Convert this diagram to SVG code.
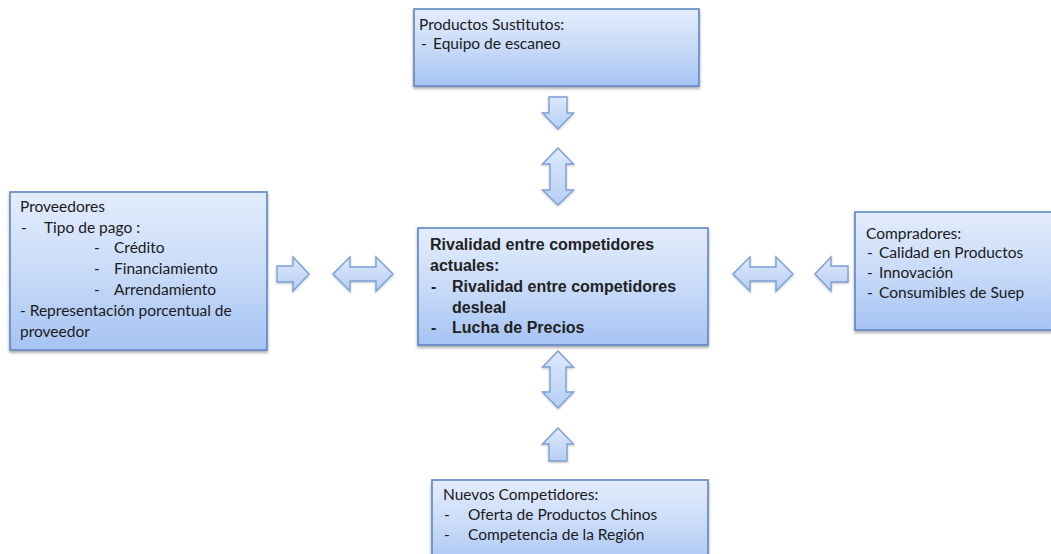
<svg xmlns="http://www.w3.org/2000/svg" width="1051" height="554" viewBox="0 0 1051 554">
  <defs>
    <linearGradient id="boxFill" x1="0" y1="0" x2="0" y2="1">
      <stop offset="0" stop-color="#e3ecfc"/>
      <stop offset="0.5" stop-color="#c9dbf8"/>
      <stop offset="1" stop-color="#a5c3f3"/>
    </linearGradient>
    <linearGradient id="arrowFill" x1="0" y1="0" x2="0" y2="1">
      <stop offset="0" stop-color="#dde8fb"/>
      <stop offset="1" stop-color="#b7cff4"/>
    </linearGradient>
    <filter id="shadow" x="-10%" y="-10%" width="120%" height="130%">
      <feDropShadow dx="0" dy="2" stdDeviation="1.6" flood-color="#000" flood-opacity="0.35"/>
    </filter>
    <filter id="arrowShadow" x="-20%" y="-20%" width="140%" height="140%">
      <feDropShadow dx="0" dy="1" stdDeviation="1" flood-color="#000" flood-opacity="0.25"/>
    </filter>
  </defs>
  <style>
    .box { fill: url(#boxFill); stroke: #5f86c2; stroke-width: 1.6; filter: url(#shadow); }
    .arrow { fill: url(#arrowFill); stroke: #7c9fd3; stroke-width: 1.4; stroke-linejoin: miter; filter: url(#arrowShadow); }
    .t { font-family: Lato, "Open Sans", "Noto Sans", sans-serif; font-size: 15.5px; fill: #1a1a1a; }
    .c { font-family: "Liberation Sans", Arial, sans-serif; font-size: 16px; font-weight: bold; fill: #222222; }
  </style>

  <rect width="1051" height="554" fill="#ffffff"/>

  <!-- block arrows between the five forces -->
  <g id="connectors">
    <!-- from substitutes (down) -->
    <polygon class="arrow" points="549,97 567,97 567,113 573.5,113 558,129 542.5,113 549,113"/>
    <!-- substitutes <-> rivalry -->
    <polygon class="arrow" points="558,148 573.5,164 566,164 566,190 573.5,190 558,205 542.5,190 550,190 550,164 542.5,164"/>
    <!-- rivalry <-> new entrants -->
    <polygon class="arrow" points="558,351 573.5,367 566,367 566,392 573.5,392 558,408 542.5,392 550,392 550,367 542.5,367"/>
    <!-- from new entrants (up) -->
    <polygon class="arrow" points="558,428 573.5,444 567,444 567,461 549,461 549,444 542.5,444"/>
    <!-- from suppliers (right) -->
    <polygon class="arrow" points="277,266 293,266 293,257 309,274 293,291 293,282 277,282"/>
    <!-- suppliers <-> rivalry -->
    <polygon class="arrow" points="333,274 350,257 350,267 376,267 376,257 393,274 376,291 376,281 350,281 350,291"/>
    <!-- rivalry <-> buyers -->
    <polygon class="arrow" points="733,274 750,257 750,267 776,267 776,257 793,274 776,291 776,281 750,281 750,291"/>
    <!-- from buyers (left) -->
    <polygon class="arrow" points="815,274 831,257 831,266 848,266 848,282 831,282 831,291"/>
  </g>

  <!-- substitute products -->
  <g id="sustitutos">
    <rect class="box" x="414" y="9" width="285" height="77"/>
    <text class="t" x="419" y="30">Productos Sustitutos:</text>
    <text class="t" x="421" y="49">-</text>
    <text class="t" x="433" y="49">Equipo de escaneo</text>
  </g>

  <!-- suppliers -->
  <g id="proveedores">
    <rect class="box" x="10" y="192" width="257" height="158"/>
    <text class="t" x="20" y="212">Proveedores</text>
    <text class="t" x="21" y="233">-</text>
    <text class="t" x="44" y="233">Tipo de pago :</text>
    <text class="t" x="94" y="253">-</text>
    <text class="t" x="114" y="253">Crédito</text>
    <text class="t" x="94" y="274">-</text>
    <text class="t" x="114" y="274">Financiamiento</text>
    <text class="t" x="94" y="295">-</text>
    <text class="t" x="114" y="295">Arrendamiento</text>
    <text class="t" x="20" y="316">- Representación porcentual de</text>
    <text class="t" x="20" y="337">proveedor</text>
  </g>

  <!-- rivalry among existing competitors -->
  <g id="rivalidad">
    <rect class="box" x="418" y="228" width="290" height="117"/>
    <text class="c" x="430" y="250">Rivalidad entre competidores</text>
    <text class="c" x="430" y="271">actuales:</text>
    <text class="c" x="431" y="292">-</text>
    <text class="c" x="452" y="292">Rivalidad entre competidores</text>
    <text class="c" x="452" y="313">desleal</text>
    <text class="c" x="431" y="333">-</text>
    <text class="c" x="452" y="333">Lucha de Precios</text>
  </g>

  <!-- buyers -->
  <g id="compradores">
    <rect class="box" x="855" y="212" width="205" height="118"/>
    <text class="t" x="866" y="239">Compradores:</text>
    <text class="t" x="867" y="258">-</text>
    <text class="t" x="879" y="258">Calidad en Productos</text>
    <text class="t" x="867" y="278">-</text>
    <text class="t" x="879" y="278">Innovación</text>
    <text class="t" x="867" y="298">-</text>
    <text class="t" x="879" y="298">Consumibles de Suep</text>
  </g>

  <!-- new entrants -->
  <g id="nuevos">
    <rect class="box" x="432" y="480" width="276" height="90"/>
    <text class="t" x="443" y="500">Nuevos Competidores:</text>
    <text class="t" x="444" y="520">-</text>
    <text class="t" x="468" y="520">Oferta de Productos Chinos</text>
    <text class="t" x="444" y="540">-</text>
    <text class="t" x="468" y="540">Competencia de la Región</text>
  </g>
</svg>
